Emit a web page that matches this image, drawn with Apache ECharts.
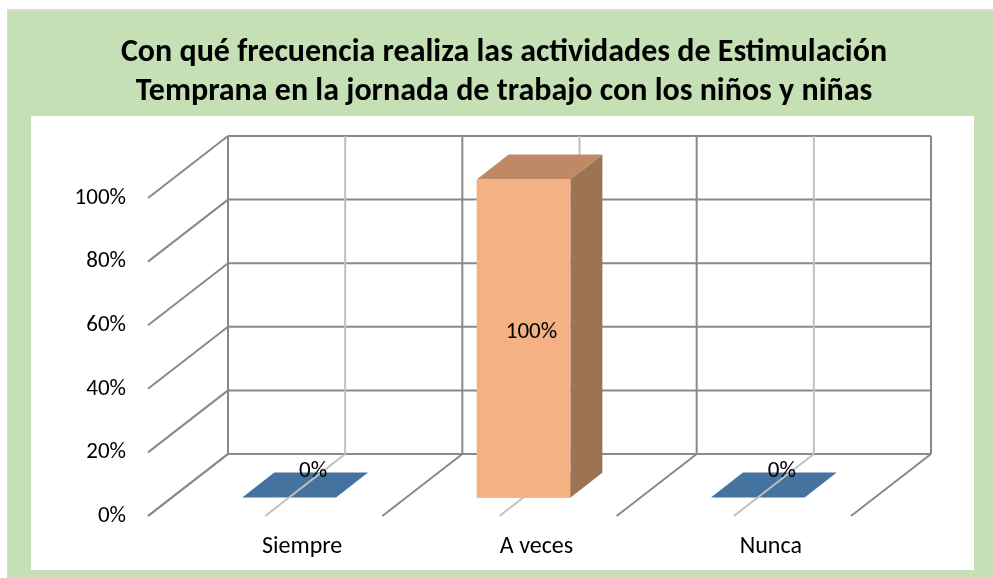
<!DOCTYPE html>
<html>
<head>
<meta charset="utf-8">
<script src="https://cdn.jsdelivr.net/npm/echarts@6/dist/echarts.min.js"></script>
<style>
  html, body { margin: 0; padding: 0; background: #fff; }
  #chart { width: 993px; height: 578px; }
</style>
</head>
<body>
<div id="chart"></div>
<script>
// ---- data ----
const titleText = 'Con qué frecuencia realiza las actividades de Estimulación\nTemprana en la jornada de trabajo con los niños y niñas';
const categories = ['Siempre', 'A veces', 'Nunca'];
const values = [0, 100, 0];
const yTicks = [0, 20, 40, 60, 80, 100];

// ---- style constants ----
const FONT = 'Carlito, Lato, "Open Sans", sans-serif';
const DEPTH = [80, -62];          // pixel vector from front floor edge to back wall
const BAR_D0 = 0.3, BAR_D1 = 0.7; // bar depth span (fraction of depth)
const BAR_W = 0.4;                // bar width as fraction of band
const DARK = '#898989', LIGHT = '#C0C0C0';
const palette = [
  { front: '#4F81BD', top: '#44739F', side: '#3A6389' },
  { front: '#F4B183', top: '#BF8966', side: '#9C7353' },
  { front: '#4F81BD', top: '#44739F', side: '#3A6389' }
];

const chart = echarts.init(document.getElementById('chart'), null, { renderer: 'canvas' });

function off(p, d) { return [p[0] + DEPTH[0] * d, p[1] + DEPTH[1] * d]; }

function renderRows(params, api) {
  const cs = params.coordSys;
  const v = api.value(1);
  const y = api.coord([0, v])[1];
  const xl = cs.x, xr = cs.x + cs.width;
  return {
    type: 'group',
    children: [
      { type: 'line', shape: { x1: xl + DEPTH[0], y1: y + DEPTH[1], x2: xr + DEPTH[0], y2: y + DEPTH[1] },
        style: { stroke: DARK, lineWidth: 2 } },
      { type: 'line', shape: { x1: xl, y1: y, x2: xl + DEPTH[0], y2: y + DEPTH[1] },
        style: { stroke: DARK, lineWidth: 2 } }
    ]
  };
}

function renderCols(params, api) {
  const i = api.value(0);
  const c = api.coord([i, 0]);
  const top = api.coord([i, yTicks[yTicks.length - 1]]);
  const bw = api.size([1, 0])[0];
  const xs = [[c[0] - bw / 2, DARK], [c[0], LIGHT]];
  if (i === categories.length - 1) xs.push([c[0] + bw / 2, DARK]);
  const children = [];
  xs.forEach(function (e) {
    const x = e[0];
    children.push({ type: 'line', shape: { x1: x + DEPTH[0], y1: c[1] + DEPTH[1], x2: x + DEPTH[0], y2: top[1] + DEPTH[1] },
      style: { stroke: e[1], lineWidth: 2 } });
    children.push({ type: 'line', shape: { x1: x, y1: c[1], x2: x + DEPTH[0], y2: c[1] + DEPTH[1] },
      style: { stroke: e[1], lineWidth: 2 } });
  });
  return { type: 'group', children: children };
}

function boxPoints(api) {
  const i = api.value(0);
  const v = api.value(1);
  const base = api.coord([i, 0]);
  const tip = api.coord([i, v]);
  const hw = api.size([1, 0])[0] * BAR_W / 2;
  const fbl = off([base[0] - hw, base[1]], BAR_D0), fbr = off([base[0] + hw, base[1]], BAR_D0);
  const ftl = off([base[0] - hw, tip[1]], BAR_D0), ftr = off([base[0] + hw, tip[1]], BAR_D0);
  const bbr = off([base[0] + hw, base[1]], BAR_D1);
  const btl = off([base[0] - hw, tip[1]], BAR_D1), btr = off([base[0] + hw, tip[1]], BAR_D1);
  return { i: i, v: v, base: base, tip: tip, fbl: fbl, fbr: fbr, ftl: ftl, ftr: ftr, bbr: bbr, btl: btl, btr: btr };
}

function renderFootprint(params, api) {
  const b = boxPoints(api);
  const i = b.i, hw = api.size([1, 0])[0] * BAR_W / 2;
  const p1 = off([b.base[0] - hw, b.base[1]], BAR_D0), p2 = off([b.base[0] + hw, b.base[1]], BAR_D0);
  const p3 = off([b.base[0] + hw, b.base[1]], BAR_D1), p4 = off([b.base[0] - hw, b.base[1]], BAR_D1);
  return { type: 'polygon', shape: { points: [p1, p2, p3, p4] }, style: { fill: palette[i].top } };
}

function renderBox(params, api) {
  const b = boxPoints(api);
  if (!(b.v > 0)) return null;
  const col = palette[b.i];
  return {
    type: 'group',
    children: [
      { type: 'polygon', shape: { points: [b.fbr, b.bbr, b.btr, b.ftr] }, style: { fill: col.side } },
      { type: 'polygon', shape: { points: [b.ftl, b.ftr, b.btr, b.btl] }, style: { fill: col.top } },
      { type: 'polygon', shape: { points: [b.fbl, b.fbr, b.ftr, b.ftl] }, style: { fill: col.front } }
    ]
  };
}

function renderLabel(params, api) {
  const b = boxPoints(api);
  let x, y;
  if (b.v > 0) {
    const p = off([b.base[0], (b.base[1] + b.tip[1]) / 2], (BAR_D0 + BAR_D1) / 2 - 0.1);
    x = p[0]; y = p[1];
  } else {
    const p = off([b.base[0], b.base[1]], 0.6);
    x = p[0]; y = off(b.base, BAR_D1)[1] - 1;
  }
  return {
    type: 'text',
    style: { x: x, y: y, text: b.v + '%', align: 'center', verticalAlign: 'middle',
      font: '23px ' + FONT, fill: '#000' }
  };
}

const barData = values.map(function (v, i) { return [i, v]; });

const option = {
  backgroundColor: '#ffffff',
  animation: false,
  title: {
    text: titleText,
    left: 504,
    top: 33,
    textAlign: 'center',
    padding: 0,
    textStyle: { fontFamily: FONT, fontWeight: 'bold', fontSize: 32, lineHeight: 39, color: '#000' }
  },
  graphic: [
    { type: 'rect', z: -10, shape: { x: 7, y: 9, width: 990, height: 575 }, style: { fill: '#D9D9D9' } },
    { type: 'rect', z: -9, shape: { x: 8, y: 11, width: 990, height: 575 }, style: { fill: '#C5E0B4' } },
    { type: 'rect', z: -8, shape: { x: 31, y: 116, width: 943, height: 454 }, style: { fill: '#ffffff' } }
  ],
  grid: { left: 148, right: 142, top: 198, bottom: 62 },
  xAxis: {
    type: 'category',
    data: categories,
    axisLine: { show: false },
    axisTick: { show: false },
    splitLine: { show: false },
    axisLabel: { margin: 19, fontSize: 24, fontFamily: FONT, color: '#000', padding: [0, 0, 0, 74] }
  },
  yAxis: {
    type: 'value',
    min: 0, max: 100, interval: 20,
    axisLine: { show: false },
    axisTick: { show: false },
    splitLine: { show: false },
    axisLabel: { margin: 22, fontSize: 23, fontFamily: FONT, color: '#000', formatter: '{value}%' }
  },
  series: [
    { type: 'custom', name: 'footprint', z: 1, clip: false, renderItem: renderFootprint, data: barData, encode: { x: 0, y: 1 } },
    { type: 'custom', name: 'rows', z: 2, clip: false, renderItem: renderRows,
      data: yTicks.map(function (v) { return [0, v]; }), encode: { x: 0, y: 1 } },
    { type: 'custom', name: 'cols', z: 2, clip: false, renderItem: renderCols,
      data: categories.map(function (c, i) { return [i, 0]; }), encode: { x: 0, y: 1 } },
    { type: 'custom', name: 'bars', z: 3, clip: false, renderItem: renderBox, data: barData, encode: { x: 0, y: 1 } },
    { type: 'custom', name: 'labels', z: 4, clip: false, renderItem: renderLabel, data: barData, encode: { x: 0, y: 1 } }
  ]
};
chart.setOption(option);
</script>
</body>
</html>
